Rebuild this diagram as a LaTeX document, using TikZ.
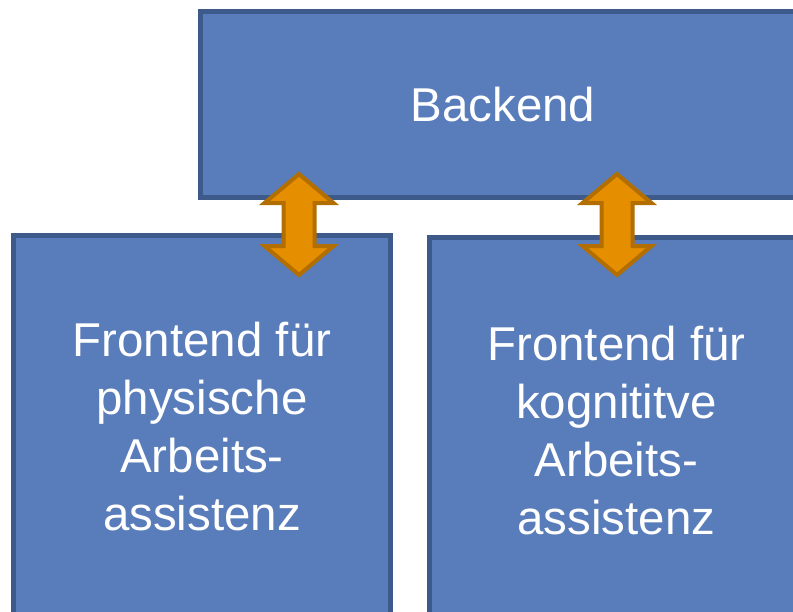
\documentclass[tikz,border=0pt]{standalone}
\usepackage{fontspec}
\setmainfont{Liberation Sans}
\definecolor{boxblue}{RGB}{89,124,187}
\definecolor{boxline}{RGB}{61,90,138}
\definecolor{linkorange}{RGB}{228,142,0}
\definecolor{linkline}{RGB}{178,110,0}

\begin{document}
\begin{tikzpicture}[x=0.75pt,y=-0.75pt]
  \tikzset{
    box/.style={draw=boxline,line width=3.75pt,fill=boxblue,text=white,
                inner sep=0pt,align=center,
                font=\fontsize{35.6pt}{43.5pt}\selectfont},
    link/.style={draw=linkline,line width=3pt,fill=linkorange}
  }
  \clip (0,0) rectangle (793,611);
  % boxes
  \node[box,minimum width=453.75pt,minimum height=139.5pt] (be) at (503,104.5) {Backend};
  \node[box,minimum width=282.75pt,minimum height=287.25pt] (fe1) at (202,427)
    {Frontend für\\physische\\Arbeits-\\assistenz};
  \node[box,minimum width=280.5pt,minimum height=289.5pt] (fe2) at (616.5,430.5)
    {Frontend für\\kognititve\\Arbeits-\\assistenz};
  % double arrows between backend and frontends
  \foreach \xpos/\name in {299/link1,617/link2}{
    \coordinate (\name) at (\xpos,224.5);
    \draw[link,shift={(\name)}] (0,-50.5) -- (34.5,-21.5) -- (15.5,-21.5)
      -- (15.5,21.5) -- (34.5,21.5) -- (0,50.5) -- (-34.5,21.5)
      -- (-15.5,21.5) -- (-15.5,-21.5) -- (-34.5,-21.5) -- cycle;
  }
\end{tikzpicture}
\end{document}
